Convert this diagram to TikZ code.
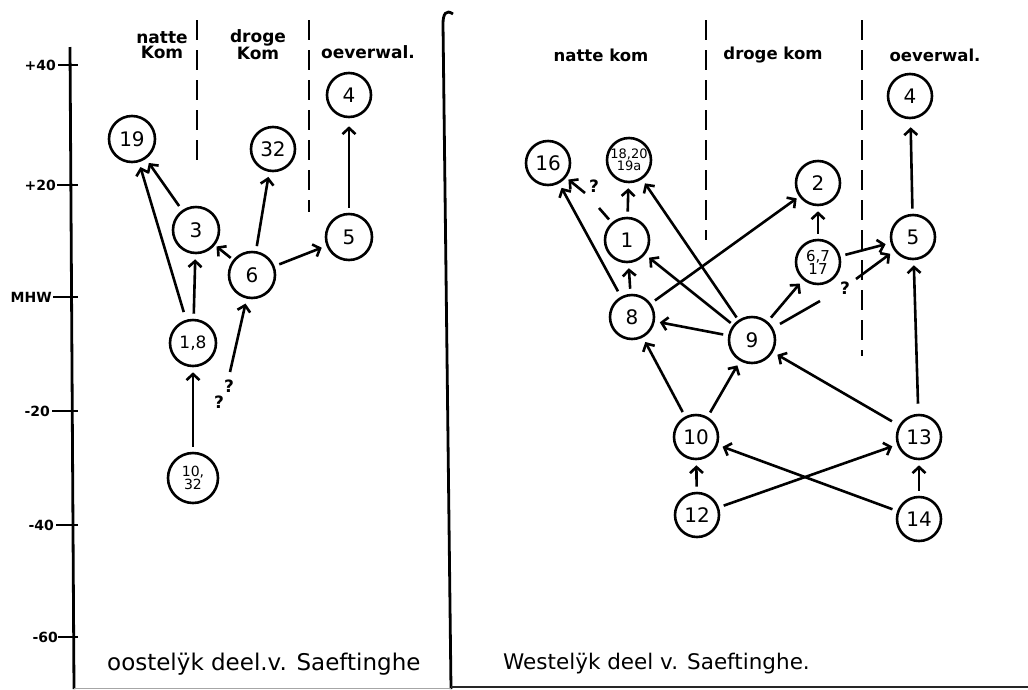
\documentclass[tikz,border=0pt]{standalone}
\usepackage{fontspec}
\setmainfont{DejaVu Sans}
\usetikzlibrary{arrows.meta,calc}
\begin{document}
\begin{tikzpicture}[x=1pt,y=-1pt,
  st/.style={circle,draw,line width=2.6pt,minimum size=44pt,inner sep=0pt,font=\fontsize{20}{20}\selectfont},
  stsm/.style={st,font=\fontsize{13}{12}\selectfont,align=center},
  arr/.style={line width=2.6pt,-{Straight Barb[length=6pt,width=13pt,line width=2.6pt]},shorten >=5pt,shorten <=5pt},
  ln/.style={line width=2.6pt},
  dl/.style={line width=2.4pt,dash pattern=on 20pt off 10pt},
  hdr/.style={font=\fontsize{17}{15}\selectfont\bfseries,align=center},
  hdrr/.style={font=\fontsize{16.5}{15}\selectfont\bfseries,align=center},
  tk/.style={font=\fontsize{14}{14}\selectfont\bfseries,anchor=east,inner sep=1pt},
  qm/.style={font=\fontsize{17}{17}\selectfont\bfseries,inner sep=0pt},
  ttl/.style={font=\fontsize{23}{23}\selectfont,anchor=west,inner sep=0pt}
]
\useasboundingbox (0,0) rectangle (1028,689);
\fill[white] (0,0) rectangle (1028,689);

% ---------- frame lines ----------
\draw[line width=2.8pt] (70,47) -- (74,689);
\draw[line width=2.8pt] (453,14) .. controls (446,9) and (443,14) .. (443,24) -- (451,689);
\draw[line width=1.8pt,black!85] (451,687) -- (1028,687);
\draw[line width=0.8pt,black!35] (74,688) -- (451,688);

% ---------- axis ticks ----------
\foreach \y/\xx in {65/58,185/57,297/53,411/52,525/56,637/58}{
  \draw[line width=2.4pt] (\xx,\y) -- (78,\y);
}
\node[tk] (t40) at (57,65) {+40};
\node[tk] (t20) at (57,185) {+20};
\node[tk] (tmhw) at (53,297) {MHW};
\node[tk] (tm20) at (51,411) {-20};
\node[tk] (tm40) at (55,525) {-40};
\node[tk] (tm60) at (59,637) {-60};

% ---------- left panel ----------
\draw[dl] (197,20) -- (197,170);
\draw[dl] (309,20) -- (309,212);
\node[hdr] (lh1) at (162,45) {natte\\Kom};
\node[hdr] (lh2) at (258,45) {droge\\Kom};
\node[hdr] (lh3) at (368,52) {oeverwal.};

\node[st,minimum size=46pt] (L19) at (132,139) {19};
\node[st,minimum size=46pt] (L3) at (196,230) {3};
\node[st] (L32) at (273,149) {32};
\node[st] (L4) at (349,95) {4};
\node[st,minimum size=46pt] (L5) at (349,237) {5};
\node[st,minimum size=46pt] (L6) at (252,275) {6};
\node[stsm,minimum size=46pt,font=\fontsize{17}{17}\selectfont] (L18) at (193,343) {1,8};
\node[stsm,minimum size=50pt,font=\fontsize{14}{13}\selectfont] (L10) at (193,478) {10,\\32};
\coordinate (Lq) at (230,372);
\coordinate (L6a) at ($(L6)!0.38!(L3)$);

\draw[arr] (L3) -- (L19);
\draw[arr,shorten <=8pt] (L18) -- (L19);
\draw[arr] (L18) -- (L3);
\draw[arr,shorten <=0pt,shorten >=2pt] (L6a) -- (L3);
\draw[arr] (L6) -- (L32);
\draw[arr] (L6) -- (L5);
\draw[arr,shorten >=8pt] (L5) -- (L4);
\draw[arr,shorten <=0pt] (Lq) -- (L6);
\draw[arr] (L10) -- (L18);
\node[qm] (lq1) at (229,386) {?};
\node[qm] (lq2) at (219,402) {?};

\node[ttl] (lt) at (107,664) {oostelÿk deel.v. Saeftinghe};

% ---------- right panel ----------
\draw[dl] (706,20) -- (706,240);
\draw[dl] (862,20) -- (862,356);
\node[hdrr] (rh1) at (601,55) {natte kom};
\node[hdrr] (rh2) at (773,55) {droge kom};
\node[hdrr] (rh3) at (935,55) {oeverwal.};

\node[st] (R16) at (548,163) {16};
\node[stsm,font=\fontsize{13}{12}\selectfont] (R18) at (629,160) {18,20\\19a};
\node[st] (R2) at (818,183) {2};
\node[st] (R4) at (910,96) {4};
\node[st] (R1) at (627,240) {1};
\node[stsm,font=\fontsize{15}{13}\selectfont] (R6) at (818,262) {6,7\\17};
\node[st] (R5) at (913,237) {5};
\node[st] (R8) at (632,317) {8};
\node[st,minimum size=46pt] (R9) at (752,340) {9};
\node[st] (R10) at (696,437) {10};
\node[st] (R13) at (919,437) {13};
\node[st] (R12) at (697,515) {12};
\node[st] (R14) at (919,519) {14};

\coordinate (c1) at (599,208);
\coordinate (c2) at (585,193);
\coordinate (c3) at (820,301);
\coordinate (c4) at (856,279);

\draw[ln,shorten <=4pt] (R1) -- (c1);
\draw[arr,shorten <=0pt,shorten >=3pt] (c2) -- (R16);
\node[qm] (rq1) at (594,186) {?};
\draw[arr,shorten <=6pt] (R8) -- (R16);
\draw[arr] (R1) -- (R18);
\draw[arr,shorten <=3pt] (R9) -- (R18);
\draw[arr,shorten <=3pt] (R9) -- (R1);
\draw[arr] (R8) -- (R1);
\draw[arr,shorten >=3pt] (R8) -- (R2);
\draw[arr] (R9) -- (R8);
\draw[arr] (R9) -- (R6);
\draw[arr] (R6) -- (R2);
\draw[arr] (R6) -- (R5);
\draw[ln,shorten <=8pt] (R9) -- (c3);
\node[qm] (rq2) at (845,288) {?};
\draw[arr,shorten <=0pt] (c4) -- (R5);
\draw[arr,shorten <=10pt] (R13) -- (R5);
\draw[arr,shorten >=8pt] (R5) -- (R4);
\draw[arr] (R10) -- (R8);
\draw[arr] (R10) -- (R9);
\draw[arr,shorten <=8pt] (R13) -- (R9);
\draw[arr] (R12) -- (R10);
\draw[arr] (R12) -- (R13);
\draw[arr] (R14) -- (R10);
\draw[arr] (R14) -- (R13);

\node[ttl,font=\fontsize{21.5}{21.5}\selectfont] (rt) at (503,664) {Westelÿk deel v. Saeftinghe.};
\end{tikzpicture}
\end{document}
